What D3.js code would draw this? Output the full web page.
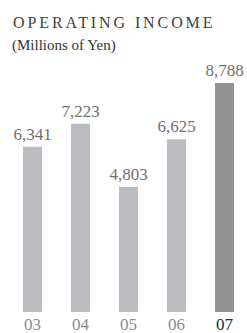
<!DOCTYPE html>
<html>
<head>
<meta charset="utf-8">
<script src="https://cdn.jsdelivr.net/npm/d3@7/dist/d3.min.js"></script>
<style>
  html, body { margin: 0; padding: 0; background: #fff; }
  svg { display: block; }
  text { font-family: 'Liberation Serif', 'Times New Roman', Times, 'DejaVu Serif', serif; }
  .title { fill: #404040; font-size: 16px; letter-spacing: 2.9px; }
  .subtitle { fill: #333; font-size: 15px; }
  .value { fill: #707070; font-size: 17px; text-anchor: middle; }
  .year { fill: #8a8a8a; font-size: 17px; text-anchor: middle; }
  .year.current { fill: #2a2a2a; }
</style>
</head>
<body>
<div id="chart"></div>
<script>
var years = ["03", "04", "05", "06", "07"];
var income = [6341, 7223, 4803, 6625, 8788];
var highlightYear = "07";

var width = 247;
var height = 333;
var baseline = 312;
var serif = "'Liberation Serif', 'Times New Roman', Times, serif";

var svg = d3.select("#chart")
  .append("svg")
  .attr("width", width)
  .attr("height", height);

// Title
svg.append("text")
  .attr("class", "title")
  .attr("font-family", serif)
  .attr("x", 13)
  .attr("y", 28)
  .text("OPERATING INCOME");

svg.append("text")
  .attr("class", "subtitle")
  .attr("font-family", serif)
  .attr("x", 12)
  .attr("y", 50)
  .text("(Millions of Yen)");

// Scales
var xScale = d3.scaleBand()
  .domain(years)
  .range([8.5, 248.5])
  .paddingInner(0.604)
  .paddingOuter(0.302);

var yScale = d3.scaleLinear()
  .domain([0, 8788])
  .range([baseline, 83]);

var data = years.map((y, i) => ({ year: y, value: income[i] }));
var fmt = d3.format(",");

// Bars
svg.append("g")
  .selectAll("rect")
  .data(data)
  .enter()
  .append("rect")
  .attr("x", d => xScale(d.year))
  .attr("y", d => yScale(d.value))
  .attr("width", xScale.bandwidth())
  .attr("height", d => baseline - yScale(d.value))
  .attr("fill", d => d.year == highlightYear ? "#939396" : "#bbbcc0");

// Value labels
svg.append("g")
  .selectAll("text")
  .data(data)
  .enter()
  .append("text")
  .attr("class", "value")
  .attr("font-family", serif)
  .attr("x", d => xScale(d.year) + xScale.bandwidth() / 2)
  .attr("y", d => yScale(d.value) - 7)
  .text(d => fmt(d.value));

// Year labels
svg.append("g")
  .selectAll("text")
  .data(data)
  .enter()
  .append("text")
  .attr("class", d => d.year == highlightYear ? "year current" : "year")
  .attr("font-family", serif)
  .attr("x", d => xScale(d.year) + xScale.bandwidth() / 2)
  .attr("y", 330)
  .text(d => d.year);
</script>
</body>
</html>
